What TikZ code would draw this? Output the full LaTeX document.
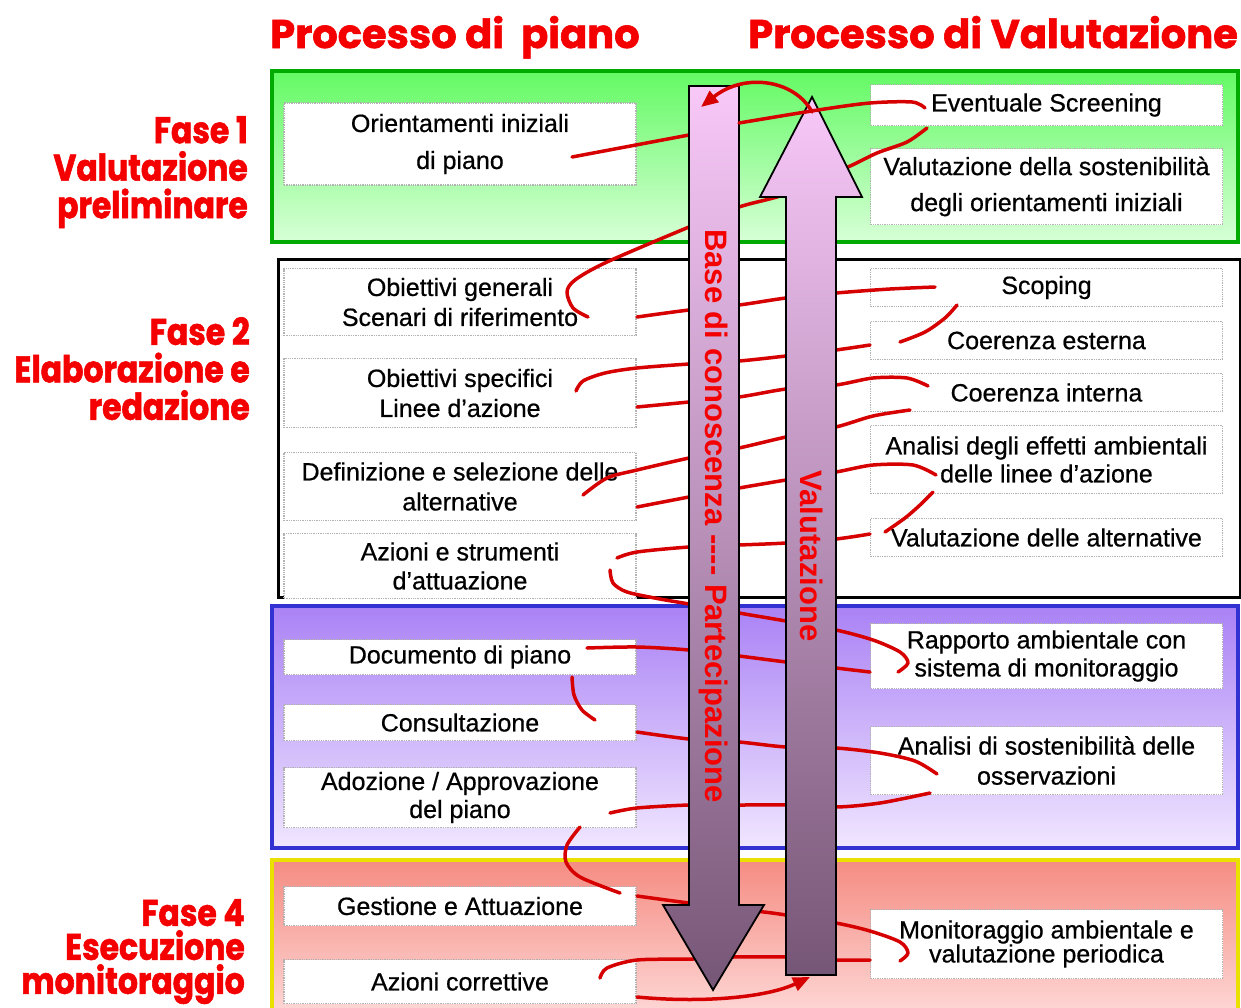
\documentclass[tikz,border=0pt]{standalone}
\usepackage{fontspec}
\setmainfont{Liberation Sans}
\newfontfamily\boxfont[FakeBold=0.6]{Liberation Sans}
\newfontfamily\heavy[FakeBold=1.5]{Poppins}
\newfontfamily\heavyn[FakeStretch=0.85,FakeBold=1.5]{Poppins}
\usetikzlibrary{arrows.meta}
\definecolor{hred}{RGB}{215,0,0}
\definecolor{tred}{RGB}{245,0,0}
\definecolor{gborder}{RGB}{0,170,0}
\definecolor{gtop}{RGB}{100,250,100}
\definecolor{gbot}{RGB}{215,255,215}
\definecolor{bborder}{RGB}{50,50,210}
\definecolor{btop}{RGB}{170,130,245}
\definecolor{bbot}{RGB}{240,230,255}
\definecolor{yborder}{RGB}{235,225,0}
\definecolor{ytop}{RGB}{245,140,130}
\definecolor{ybot}{RGB}{255,228,228}
\definecolor{arrtop}{RGB}{248,200,248}
\definecolor{arrbot}{RGB}{118,86,118}
\begin{document}
\begin{tikzpicture}[x=1pt,y=-1pt,
  wbox/.style={draw=gray!60, densely dotted, line width=1.3pt, fill=white, minimum width=352pt, inner sep=0pt, align=center, font=\boxfont\fontsize{25}{#1}\selectfont},
  wbox/.default=30,
  phl/.style={text=tred, font=\heavyn\bfseries\fontsize{37}{#1}\selectfont, align=right, anchor=north east, inner sep=0pt},
  phl/.default=37.5,
  ttl/.style={text=tred, font=\heavy\bfseries\fontsize{40}{40}\selectfont, anchor=base west, inner sep=0pt},
  helix/.style={draw=hred, line width=3.5pt, line cap=round, line join=round},
  bigarrow/.style={draw=black, line width=1.8pt, top color=arrtop, bottom color=arrbot},
  arrtxt/.style={text=tred, font=\bfseries\fontsize{31}{31}\selectfont, rotate=-90, inner sep=0pt},
  redtip/.style={-{Triangle[length=17pt,width=14pt]}}
]
\useasboundingbox (0,0) rectangle (1241,1007);
\clip (0,0) rectangle (1241,1007);
\fill[white] (0,0) rectangle (1241,1007);

% titles
\node[ttl] (t1) at (270,48) {Processo di~~piano};
\node[ttl] (t2) at (748,48) {Processo di Valutazione};

% phase labels
\node[phl] (f1) at (248,116) {Fase 1\\Valutazione\\preliminare};
\node[phl] (f2) at (250,317) {Fase 2\\Elaborazione e\\redazione};
\node[phl=34] (f4) at (245,899) {Fase 4\\Esecuzione\\monitoraggio};

% phase boxes
\path[draw=gborder, line width=4pt, top color=gtop, bottom color=gbot] (272,71) rectangle (1238,242);
\draw[line width=3pt, fill=white] (278,259) rectangle (1240,597);
\path[draw=bborder, line width=4pt, top color=btop, bottom color=bbot] (272,606) rectangle (1238,848);
\path[draw=yborder, line width=3.5pt, top color=ytop, bottom color=ybot] (272,860) rectangle (1238,1040);

% left boxes
\node[wbox=37, minimum height=82pt] (L1) at (460,144) {Orientamenti iniziali\\di piano};
\node[wbox, minimum height=67pt] (L2) at (460,302) {Obiettivi generali\\Scenari di riferimento};
\node[wbox, minimum height=69pt] (L3) at (460,393) {Obiettivi specifici\\Linee d’azione};
\node[wbox, minimum height=68pt] (L4) at (460,486.5) {Definizione e selezione delle\\alternative};
\node[wbox=29, minimum height=65pt] (L5) at (460,566) {Azioni e strumenti\\d’attuazione};
\node[wbox, minimum height=35pt] (L6) at (460,657) {Documento di piano};
\node[wbox, minimum height=36pt] (L7) at (460,722.5) {Consultazione};
\node[wbox=28, minimum height=60pt] (L8) at (460,797.5) {Adozione / Approvazione\\del piano};
\node[wbox, minimum height=39pt] (L9) at (460,906) {Gestione e Attuazione};
\node[wbox, minimum height=44pt] (L10) at (460,981.5) {Azioni correttive};

% right boxes
\node[wbox, minimum height=41pt] (R1) at (1046.5,105) {Eventuale Screening};
\node[wbox=36, minimum height=76pt] (R2) at (1046.5,186.5) {Valutazione della sostenibilità\\degli orientamenti iniziali};
\node[wbox, minimum height=38pt] (R3) at (1046.5,287.5) {Scoping};
\node[wbox, minimum height=38pt] (R4) at (1046.5,340.5) {Coerenza esterna};
\node[wbox, minimum height=38pt] (R5) at (1046.5,392.5) {Coerenza interna};
\node[wbox=28, minimum height=68pt] (R6) at (1046.5,459.5) {Analisi degli effetti ambientali\\delle linee d’azione};
\node[wbox, minimum height=38pt] (R7) at (1046.5,537.5) {Valutazione delle alternative};
\node[wbox=28, minimum height=65pt] (R8) at (1046.5,656) {Rapporto ambientale con\\sistema di monitoraggio};
\node[wbox, minimum height=68pt] (R9) at (1046.5,760.5) {Analisi di sostenibilità delle\\osservazioni};
\node[wbox=24, minimum height=69pt] (R10) at (1046.5,944) {Monitoraggio ambientale e\\valutazione periodica};

% helix (behind arrows)
\draw[helix] (689,135) -- (572,157);
\draw[helix] plot[smooth] coordinates {(927,128) (907,142) (877,153) (848,167) (786,194) (739,207) (689,227) (607,262) (575,280) (567,292) (573,308) (588,317)};
\draw[helix] plot[smooth] coordinates {(637,317) (689,310) (739,305) (786,298) (836,293) (890,289) (935,287)};
\draw[helix] plot[smooth] coordinates {(957,305) (945,318) (925,332) (900,342)};
\draw[helix] plot[smooth] coordinates {(870,345) (836,350) (786,356) (739,361) (689,364) (637,368) (605,373) (583,381) (576,391)};
\draw[helix] plot[smooth] coordinates {(637,407) (689,402) (739,397) (786,389) (836,385) (873,378) (907,378) (928,386)};
\draw[helix] plot[smooth] coordinates {(910,410) (873,416) (836,427) (786,437) (739,448) (689,458) (637,470) (607,478) (583,495)};
\draw[helix] plot[smooth] coordinates {(637,507) (689,497) (739,488) (786,480) (836,472) (873,465) (913,465) (936,475)};
\draw[helix] plot[smooth] coordinates {(933,492) (920,505) (905,518) (885,532)};
\draw[helix] plot[smooth] coordinates {(870,534) (836,539) (786,543) (739,545) (689,547) (637,552) (617,558)};
\draw[helix] plot[smooth] coordinates {(610,570) (613,583) (627,592) (660,599) (689,604) (739,613) (786,621) (836,630) (873,640) (900,652) (908,663) (898,672)};
\draw[helix] plot[smooth] coordinates {(870,672) (836,668) (786,662) (739,656) (689,650) (637,647) (587,648)};
\draw[helix] plot[smooth] coordinates {(572,677) (574,695) (582,710) (595,720)};
\draw[helix] plot[smooth] coordinates {(637,732) (689,739) (739,742) (786,747) (836,748) (880,753) (915,761) (937,774)};
\draw[helix] plot[smooth] coordinates {(930,793) (880,803) (836,807) (786,805) (739,805) (689,805) (637,808) (610,813)};
\draw[helix] plot[smooth] coordinates {(580,827) (567,845) (566,862) (580,877) (620,893)};
\draw[helix] plot[smooth] coordinates {(637,896) (689,903) (764,912) (786,915) (836,923) (870,931) (900,942) (908,953) (900,961)};
\draw[helix] plot[smooth] coordinates {(870,960) (836,960) (786,957) (733,957) (693,959) (637,960) (607,968) (600,978)};

% big arrows
\path[bigarrow] (689,86) -- (739,86) -- (739,905) -- (764,905) -- (713,990) -- (663,905) -- (689,905) -- cycle;
\path[bigarrow] (786,975) -- (836,975) -- (836,197) -- (862,197) -- (812,97) -- (760,197) -- (786,197) -- cycle;
\node[arrtxt] (bc) at (714,516) {Base di conoscenza -{}-{}-{}- Partecipazione};
\node[arrtxt] (va) at (812,556) {Valutazione};

% helix parts in front
\draw[helix] plot[smooth] coordinates {(925,108) (912,102) (870,103) (818,110) (739,123)};
\draw[helix, redtip] (812,112) .. controls (795,80) and (745,72) .. (701,107);
\draw[helix, redtip] (637,997) .. controls (700,1003) and (765,998) .. (810,977);
\end{tikzpicture}
\end{document}
